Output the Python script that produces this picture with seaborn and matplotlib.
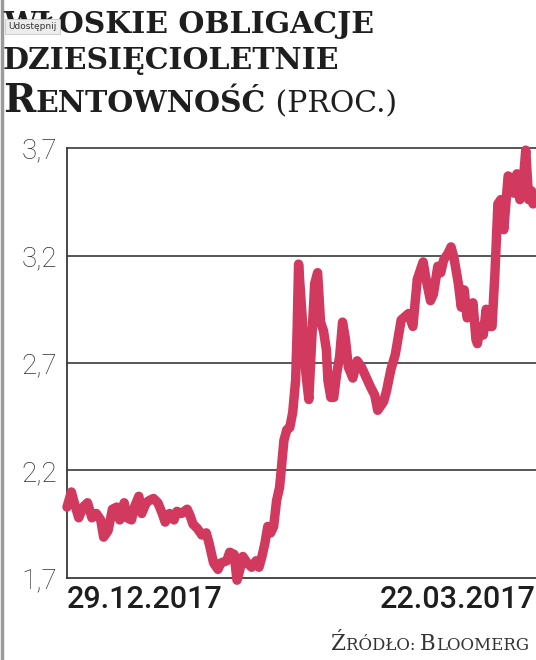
import matplotlib
matplotlib.use("Agg")
import matplotlib.pyplot as plt
import seaborn as sns
import pandas as pd

# trading day index since 29.12 and 10-year yield (%)
days = [0, 3, 5, 8, 11, 14, 17, 20, 23, 25, 28, 31, 34, 36, 39, 41, 44, 46, 49, 51,
        54, 56, 59, 62, 65, 67, 70, 73, 75, 78, 82, 84, 86, 89, 92, 95, 97, 100, 103, 105,
        109, 111, 114, 116, 118, 120, 123, 126, 129, 131, 133, 135, 137, 139, 141, 143, 145, 146, 148, 150,
        152, 154, 156, 157, 158, 160, 163, 165, 167, 169, 171, 173, 175, 177, 178, 180, 182, 184, 186, 188,
        190, 192, 195, 198, 201, 203, 207, 210, 212, 216, 218, 221, 224, 228, 233, 236, 239, 243, 245, 248,
        250, 253, 255, 257, 260, 262, 264, 267, 269, 271, 273, 277, 279, 280, 282, 284, 286, 288, 290, 292,
        294, 296, 298, 301, 303, 305, 307, 309, 311, 313, 315, 317, 318, 320]
yields = [2.03, 2.10, 2.05, 1.98, 2.03, 2.05, 1.98, 2.00, 1.97, 1.89, 1.92, 2.02, 2.03, 1.97, 2.05, 1.98, 1.97, 2.03, 2.08, 2.00,
          2.05, 2.06, 2.07, 2.05, 2.00, 1.96, 2.00, 1.97, 2.01, 2.00, 2.02, 1.99, 1.95, 1.93, 1.90, 1.91, 1.86, 1.77, 1.74, 1.77,
          1.78, 1.82, 1.81, 1.69, 1.74, 1.80, 1.77, 1.75, 1.78, 1.75, 1.80, 1.86, 1.94, 1.91, 1.94, 2.06, 2.12, 2.19, 2.34, 2.39,
          2.40, 2.47, 2.62, 2.85, 3.16, 2.96, 2.65, 2.53, 2.81, 3.07, 3.12, 2.89, 2.85, 2.76, 2.62, 2.54, 2.54, 2.65, 2.73, 2.89,
          2.81, 2.68, 2.63, 2.71, 2.68, 2.65, 2.59, 2.55, 2.48, 2.52, 2.57, 2.67, 2.74, 2.90, 2.93, 2.87, 3.09, 3.17, 3.09, 2.99,
          3.02, 3.15, 3.12, 3.18, 3.21, 3.24, 3.19, 3.07, 2.96, 3.04, 2.91, 2.98, 2.81, 2.79, 2.87, 2.83, 2.95, 2.87, 2.87, 3.12,
          3.44, 3.46, 3.32, 3.57, 3.56, 3.49, 3.58, 3.46, 3.52, 3.69, 3.46, 3.50, 3.44, 3.45]
yticks = [1.7, 2.2, 2.7, 3.2, 3.7]
ytick_labels = ["1,7", "2,2", "2,7", "3,2", "3,7"]
date_labels = ["29.12.2017", "22.03.2017"]

df = pd.DataFrame({"dzien": days, "rentownosc": yields})

sns.set_style("white")
plt.rcParams["font.family"] = ["Roboto", "DejaVu Sans"]

W, H = 536, 660
fig = plt.figure(figsize=(W / 100, H / 100), dpi=100)
ax = fig.add_axes([67 / W, 1 - 578 / H, 1 - 67 / W, (578 - 148) / H])

for yv in yticks[1:]:
    ax.axhline(yv, color="#3a3a3a", lw=1.2, zorder=1)

sns.lineplot(data=df, x="dzien", y="rentownosc", ax=ax, color="#D1395E", lw=6.8,
             zorder=3, solid_joinstyle="round", solid_capstyle="round")
for ln in ax.lines:
    ln.set_clip_on(False)

ax.set_xlim(0, 320)
ax.set_ylim(1.7, 3.7)
ax.set_xlabel("")
ax.set_ylabel("")
ax.set_yticks(yticks)
ax.set_yticklabels(ytick_labels, fontsize=20, fontweight="light", color="#2e2e2e")
ax.set_xticks([0, 320])
ax.set_xticklabels(date_labels, fontsize=22, fontweight="medium", color="#1e1e1e")
xl = ax.get_xticklabels()
xl[0].set_ha("left")
xl[1].set_ha("right")
ax.tick_params(axis="both", length=0)
ax.tick_params(axis="y", pad=7)
ax.tick_params(axis="x", pad=5)
for side in ["top", "right"]:
    ax.spines[side].set_visible(False)
for side in ["left", "bottom"]:
    ax.spines[side].set_color("#3a3a3a")
    ax.spines[side].set_linewidth(1.3)
ax.patch.set_visible(False)

renderer = fig.canvas.get_renderer()


def rich(x, y, parts, ha="left"):
    # draw a row of text pieces side by side, x/y in pixels from top-left
    cur = x
    items = []
    for s, kw in parts:
        t = fig.text(cur / W, 1 - y / H, s, va="baseline", ha="left", **kw)
        w = t.get_window_extent(renderer).width
        items.append(t)
        cur += w
    if ha == "right":
        shift = (x - cur) / W
        for t in items:
            px, py = t.get_position()
            t.set_position((px + shift, py))


serif = ["DejaVu Serif"]
bold = dict(family=serif, fontweight="bold", color="#1e1e1e")
rich(3, 33, [("WŁOSKIE OBLIGACJE", dict(fontsize=21.5, **bold))])
rich(3, 69, [("DZIESIĘCIOLETNIE", dict(fontsize=21.5, **bold))])
rich(3, 112, [("R", dict(fontsize=28, **bold)),
              ("ENTOWNOŚĆ", dict(fontsize=21.5, **bold)),
              (" (PROC.)", dict(fontsize=21.5, family=serif, color="#1e1e1e"))])

reg = dict(family=serif, color="#333333")
rich(529, 650, [("Ź", dict(fontsize=15.5, **reg)), ("RÓDŁO: ", dict(fontsize=12, **reg)),
                ("B", dict(fontsize=15.5, **reg)), ("LOOMERG", dict(fontsize=12, **reg))], ha="right")

# browser overlay button and left border seen in the reference
fig.text(8 / W, 1 - 29 / H, "Udostępnij", fontsize=6.5, color="#333333", family=["DejaVu Sans"],
         bbox=dict(boxstyle="square,pad=0.35", fc="#ececec", ec="#c8c8c8", lw=0.6), zorder=5)
fig.add_artist(plt.Line2D([1.5 / W, 1.5 / W], [0, 1], color="#9a9a9a", lw=2.5,
                          transform=fig.transFigure))

fig.savefig("out.png", dpi=100, facecolor="white")
